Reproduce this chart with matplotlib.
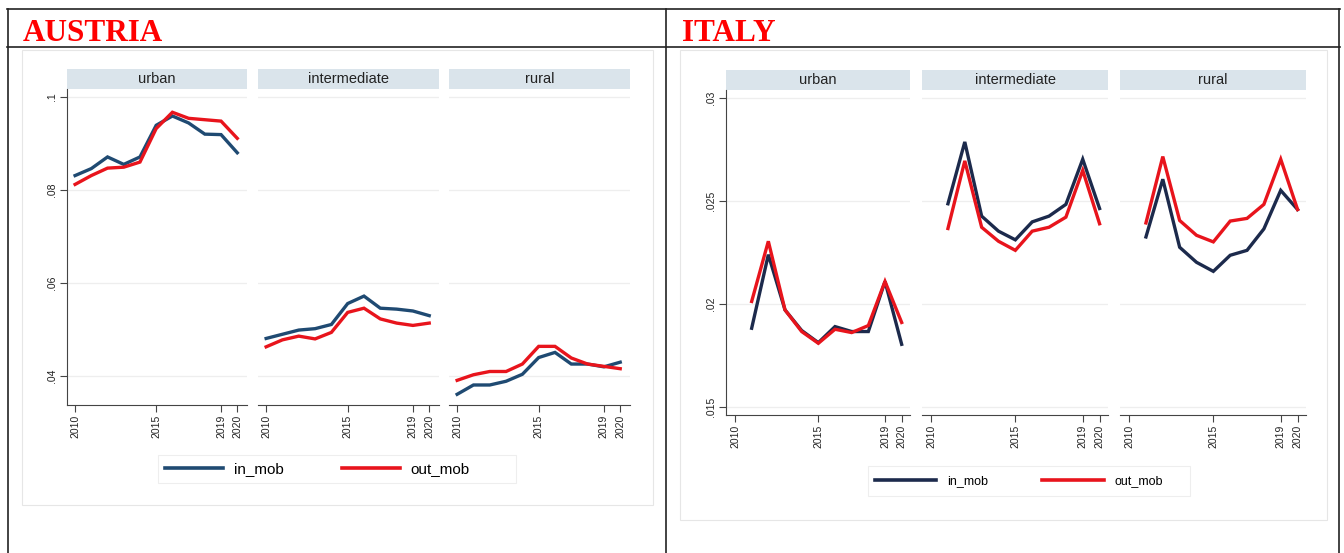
import matplotlib.pyplot as plt
from matplotlib.lines import Line2D
from matplotlib.patches import Rectangle

W, H = 1344, 553

years = list(range(2010, 2021))
years_it = list(range(2011, 2021))
categories = ["urban", "intermediate", "rural"]
xticks = [2010, 2015, 2019, 2020]

# Austria
at_in_urban = [0.0831, 0.0846, 0.0871, 0.0855, 0.0871, 0.0939, 0.0959, 0.0944, 0.0920, 0.0919, 0.0880]
at_out_urban = [0.0812, 0.0831, 0.0847, 0.0849, 0.0860, 0.0932, 0.0967, 0.0954, 0.0951, 0.0948, 0.0911]
at_in_inter = [0.0481, 0.0490, 0.0499, 0.0502, 0.0511, 0.0556, 0.0572, 0.0546, 0.0544, 0.0540, 0.0530]
at_out_inter = [0.0463, 0.0478, 0.0486, 0.0480, 0.0494, 0.0537, 0.0546, 0.0523, 0.0514, 0.0509, 0.0514]
at_in_rural = [0.0361, 0.0381, 0.0381, 0.0389, 0.0404, 0.0440, 0.0451, 0.0426, 0.0426, 0.0420, 0.0430]
at_out_rural = [0.0391, 0.0403, 0.0410, 0.0410, 0.0426, 0.0464, 0.0464, 0.0439, 0.0426, 0.0421, 0.0416]
at_yticks = [0.04, 0.06, 0.08, 0.1]
at_yticklabels = [".04", ".06", ".08", ".1"]

# Italy
it_in_urban = [0.01883, 0.0224, 0.01972, 0.01872, 0.01813, 0.01891, 0.01867, 0.01867, 0.0211, 0.01805]
it_out_urban = [0.02013, 0.02305, 0.01972, 0.01867, 0.0181, 0.01878, 0.01862, 0.01896, 0.0211, 0.01911]
it_in_inter = [0.02487, 0.02787, 0.02427, 0.02354, 0.02312, 0.02399, 0.02427, 0.02484, 0.02703, 0.02464]
it_out_inter = [0.02367, 0.02695, 0.02373, 0.02305, 0.02261, 0.02354, 0.02373, 0.02422, 0.02649, 0.0239]
it_in_rural = [0.02326, 0.02606, 0.02276, 0.02203, 0.02159, 0.02237, 0.02261, 0.02365, 0.02552, 0.02459]
it_out_rural = [0.02394, 0.02716, 0.02406, 0.02334, 0.02302, 0.02403, 0.02416, 0.02484, 0.02703, 0.02459]
it_yticks = [0.015, 0.02, 0.025, 0.03]
it_yticklabels = [".015", ".02", ".025", ".03"]

RED = "#e8141c"
STRIP = "#dae4eb"
GRID = "#eeeeee"
AXIS = "#444444"


def box(x0, y0, x1, y1):
    # pixel box -> figure fraction [left, bottom, width, height]
    return [x0 / W, 1 - y1 / H, (x1 - x0) / W, (y1 - y0) / H]


def hline(fig, x0, x1, y, **kw):
    fig.add_artist(Line2D([x0 / W, x1 / W], [1 - y / H, 1 - y / H], transform=fig.transFigure, **kw))


def vline(fig, x, y0, y1, **kw):
    fig.add_artist(Line2D([x / W, x / W], [1 - y0 / H, 1 - y1 / H], transform=fig.transFigure, **kw))


def draw_country(fig, region, panels, strip_top, plot_top, plot_bottom, x_years, series,
                 ylim, yticks, yticklabels, xlim, in_color, legend_box, legend_fs,
                 handlelen, colspace, textpad):
    fig.add_artist(Rectangle((region[0] / W, 1 - region[3] / H),
                             (region[2] - region[0]) / W, (region[3] - region[1]) / H,
                             transform=fig.transFigure, facecolor="none",
                             edgecolor="#e6e6e6", linewidth=0.8, zorder=-5))
    for i, ((x0, x1), name, (vin, vout)) in enumerate(zip(panels, categories, series)):
        sax = fig.add_axes(box(x0, strip_top, x1, plot_top))
        sax.set_facecolor(STRIP)
        for s in sax.spines.values():
            s.set_visible(False)
        sax.set_xticks([])
        sax.set_yticks([])
        sax.text(0.5, 0.5, name, ha="center", va="center", fontsize=10.5,
                 color="#222222", family="Liberation Sans", transform=sax.transAxes)

        ax = fig.add_axes(box(x0, plot_top, x1, plot_bottom))
        ax.patch.set_alpha(0)
        ax.set_xlim(*xlim)
        ax.set_ylim(*ylim)
        ax.set_yticks(yticks)
        ax.grid(axis="y", color=GRID, linewidth=0.9)
        ax.set_axisbelow(True)
        for side in ["top", "right"]:
            ax.spines[side].set_visible(False)
        ax.spines["bottom"].set_color(AXIS)
        ax.spines["left"].set_color(AXIS)
        ax.set_xticks(xticks)
        ax.set_xticklabels([str(t) for t in xticks], rotation=90, fontsize=7.5,
                           family="Liberation Sans", color="#222222")
        ax.tick_params(axis="x", length=5, color=AXIS, width=0.8, pad=2)
        if i == 0:
            ax.set_yticklabels(yticklabels, rotation=90, va="center", fontsize=7.5,
                               family="Liberation Sans", color="#222222")
            ax.tick_params(axis="y", length=5, color=AXIS, width=0.8, pad=2)
        else:
            ax.spines["left"].set_visible(False)
            ax.tick_params(axis="y", length=0, labelleft=False)
        ax.plot(x_years, vin, color=in_color, linewidth=2.4, solid_joinstyle="miter")
        ax.plot(x_years, vout, color=RED, linewidth=2.4, solid_joinstyle="miter")

    lax = fig.add_axes(box(*legend_box))
    lax.axis("off")
    lax.add_patch(Rectangle((0, 0), 1, 1, transform=lax.transAxes, facecolor="white",
                            edgecolor="#eeeeee", linewidth=0.8, clip_on=False))
    handles = [Line2D([], [], color=in_color, linewidth=2.6),
               Line2D([], [], color=RED, linewidth=2.6)]
    lw_px = legend_box[2] - legend_box[0]
    lax.legend(handles, ["in_mob", "out_mob"], loc="center left", ncol=2,
               bbox_to_anchor=(7 / lw_px, 0.5), frameon=False, borderpad=0,
               borderaxespad=0, handlelength=handlelen, columnspacing=colspace,
               handletextpad=textpad,
               prop={"family": "Liberation Sans", "size": legend_fs})


fig = plt.figure(figsize=(W / 100, H / 100), dpi=100)
fig.patch.set_facecolor("white")

# table frame
line_kw = dict(color="#222222", linewidth=1.2)
hline(fig, 7, 1340, 9, **line_kw)
hline(fig, 7, 1340, 47, **line_kw)
vline(fig, 8, 9, 553, **line_kw)
vline(fig, 666, 9, 553, **line_kw)
vline(fig, 1339, 9, 553, **line_kw)

fig.text(23 / W, 1 - 41 / H, "AUSTRIA", color="red", fontsize=22.5, fontweight="bold",
         family="Liberation Serif", va="baseline")
fig.text(682 / W, 1 - 41 / H, "ITALY", color="red", fontsize=22.5, fontweight="bold",
         family="Liberation Serif", va="baseline")

draw_country(fig, (22, 50, 653, 505),
             [(67, 247), (258, 439), (449, 630)], 69, 89, 405, years,
             [(at_in_urban, at_out_urban), (at_in_inter, at_out_inter), (at_in_rural, at_out_rural)],
             (0.0338, 0.1017), at_yticks, at_yticklabels, (2009.5, 2020.6), "#1f4a72",
             (158, 455, 516, 483), 11, 3.8, 3.8, 0.7)

draw_country(fig, (680, 50, 1327, 520),
             [(726, 910), (922, 1108), (1120, 1306)], 70, 90, 415, years_it,
             [(it_in_urban, it_out_urban), (it_in_inter, it_out_inter), (it_in_rural, it_out_rural)],
             (0.01462, 0.03039), it_yticks, it_yticklabels, (2009.46, 2020.5), "#1c2a4c",
             (868, 466, 1190, 496), 9, 4.9, 4.3, 0.9)

fig.savefig("out.png", dpi=100)
